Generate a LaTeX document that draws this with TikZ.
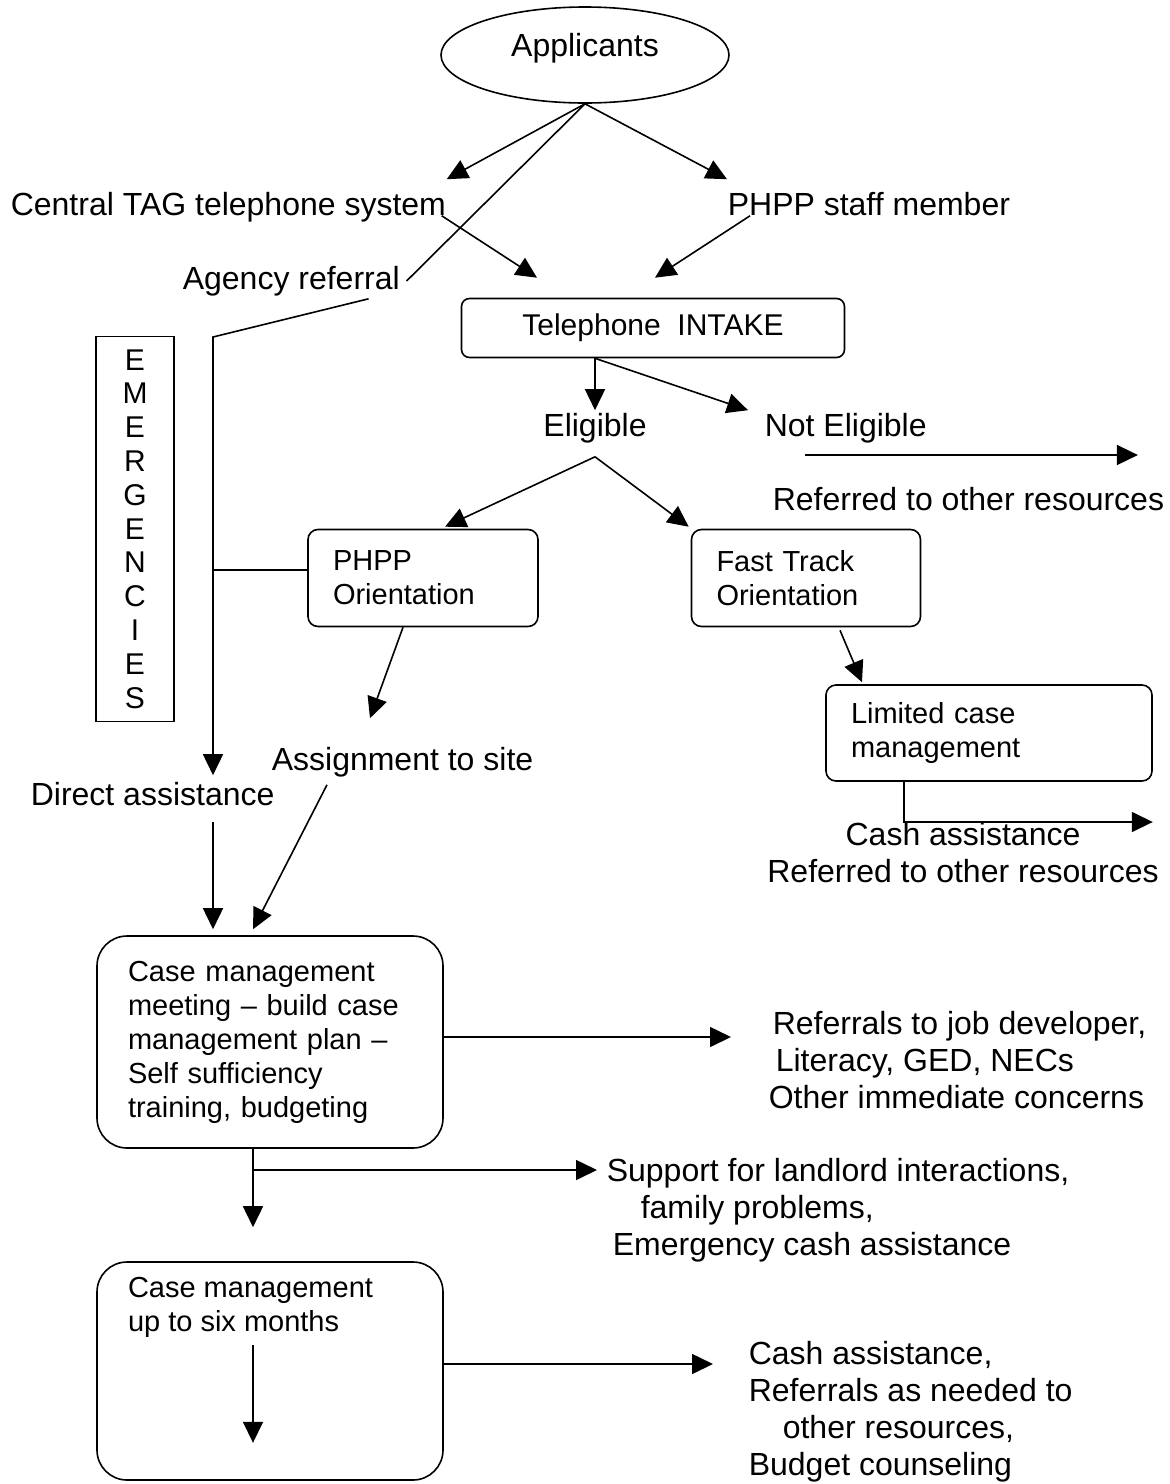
\documentclass[tikz,border=0pt]{standalone}
\usepackage{fontspec}
\setmainfont{Liberation Sans}
\usetikzlibrary{shapes,arrows,arrows.meta,calc}

\begin{document}
\begin{tikzpicture}[x=1pt,y=-1pt,line width=1.6pt]
\tikzstyle{every node}=[font=\fontsize{32}{37}\selectfont,inner sep=0pt]
\tikzstyle{txt}=[anchor=west,text height=23pt,text depth=7pt]
\tikzstyle{blk}=[anchor=west,align=left]
\tikzstyle{box}=[draw,rounded corners=10pt,align=left,font=\fontsize{29}{34}\selectfont]
\tikzstyle{arr}=[-{Triangle[length=21pt,width=20pt]}]
\useasboundingbox (0,0) rectangle (1170,1484);

\node[ellipse,draw,minimum width=288pt,minimum height=96pt,text depth=20pt] (app) at (585,55) {Applicants};
\node[txt] (cts) at (10,207) {Central TAG telephone system};
\node[txt] (staff) at (727,207) {PHPP staff member};
\node[txt] (agency) at (182,281) {Agency referral};
\node[box,rounded corners=8pt,minimum width=383pt,minimum height=59pt,align=center,font=\fontsize{30}{34}\selectfont] (intake) at (653,328) {Telephone\ \ INTAKE};
\node[txt,anchor=center] (elig) at (595,428) {Eligible};
\node[txt] (notelig) at (764,428) {Not Eligible};
\node[txt] (other) at (772,502) {Referred to other resources};
\node[draw,minimum width=78pt,minimum height=385pt,align=center,font=\fontsize{30}{33.8}\selectfont] (emerg) at (135,529) {E\\M\\E\\R\\G\\E\\N\\C\\I\\E\\S};
\node[box,minimum width=230pt,minimum height=97pt,text width=180pt] (phppo) at (423,578) {PHPP\\Orientation};
\node[box,minimum width=229pt,minimum height=97pt,text width=179pt] (fast) at (806,578) {Fast Track\\Orientation};
\node[box,minimum width=326pt,minimum height=96pt,text width=276pt] (limited) at (989,733) {Limited case\\management};
\node[align=center] (cash) at (963,853) {Cash assistance\\Referred to other resources};
\node[txt] (assign) at (271,762) {Assignment to site};
\node[txt] (direct) at (30,797) {Direct assistance};
\node[box,rounded corners=30pt,minimum width=346pt,minimum height=212pt,text width=284pt] (meet) at (270,1042) {Case management\\meeting \textendash\ build case\\management plan \textendash\\Self sufficiency\\training, budgeting};
\node[blk] (jobs) at (768,1060) {\hspace*{4pt}Referrals to job developer,\\\hspace*{7pt}Literacy, GED, NECs\\Other immediate concerns};
\node[blk] (support) at (606,1210) {Support for landlord interactions,\\\hspace*{34pt}family problems,\\\hspace*{6pt}Emergency cash assistance};
\node[box,rounded corners=30pt,minimum width=346pt,minimum height=218pt] (six) at (270,1371) {};
\node[box,draw=none,anchor=north west] (sixtxt) at ($(six.north west)+(31,15)$) {Case management\\up to six months};
\node[blk] (cash2) at (748,1412) {Cash assistance,\\Referrals as needed to\\\hspace*{34pt}other resources,\\Budget counseling};

\coordinate (bend) at (213,337);
\coordinate (pj) at (213,570);
\coordinate (na) at (805,455);
\coordinate (lc) at (904,822);
\coordinate (mj) at (443,1037);
\coordinate (sb) at (253,1170);
\coordinate (si) at (253,1345);
\coordinate (sc) at (443,1364);

\draw[arr] (app.south) -- ([yshift=12pt]cts.north east);
\draw[arr] (app.south) -- ([yshift=12pt]staff.north west);
\draw (app.south) -- ([xshift=6pt]agency.east);
\draw[arr] ([xshift=-5pt,yshift=7pt]cts.south east) -- ([xshift=-116pt,yshift=20pt]intake.north);
\draw[arr] ([xshift=23pt,yshift=7pt]staff.south west) -- ([xshift=2pt,yshift=20pt]intake.north);
\draw[arr] ([xshift=-32pt,yshift=-2pt]agency.south east) -- (bend) -- ($(direct.north west)+(183,-6)$);
\draw (pj) -- (pj -| phppo.west);
\draw[arr] (intake.south -| elig.north) -- ([yshift=2pt]elig.north);
\draw[arr] (intake.south -| elig.north) -- ([xshift=-16pt,yshift=2pt]notelig.north west);
\draw[arr,shorten >=27pt] (na) -- (na -| other.east);
\draw[arr] ([yshift=-13pt]elig.south) -- ([xshift=22pt,yshift=2pt]phppo.north);
\draw[arr] ([yshift=-13pt]elig.south) -- ([xshift=-2pt,yshift=2pt]fast.north west);
\draw[arr] ([xshift=-20pt]phppo.south) -- ([xshift=99pt,yshift=28pt]assign.north west);
\draw[arr] ([xshift=34pt,yshift=-3pt]fast.south) -- ([xshift=-127pt,yshift=2pt]limited.north);
\draw[arr] (limited.south -| lc) -- (lc) -- (lc -| limited.east);
\draw[arr] ([xshift=56pt,yshift=-7pt]assign.south west) -- ([xshift=-17pt,yshift=6pt]meet.north);
\draw[arr] ([xshift=183pt,yshift=-9pt]direct.south west) -- ([xshift=-57pt,yshift=6pt]meet.north);
\draw[arr,shorten >=37pt] (mj) -- (mj -| jobs.west);
\draw[arr] ([xshift=-17pt]meet.south) -- ([xshift=-17pt,yshift=34pt]six.north);
\draw[arr,shorten >=9pt] (sb) -- (sb -| support.west);
\draw[arr,shorten >=38pt] (si) -- (si |- six.south);
\draw[arr,shorten >=35pt] (sc) -- (sc -| cash2.west);
\end{tikzpicture}
\end{document}
